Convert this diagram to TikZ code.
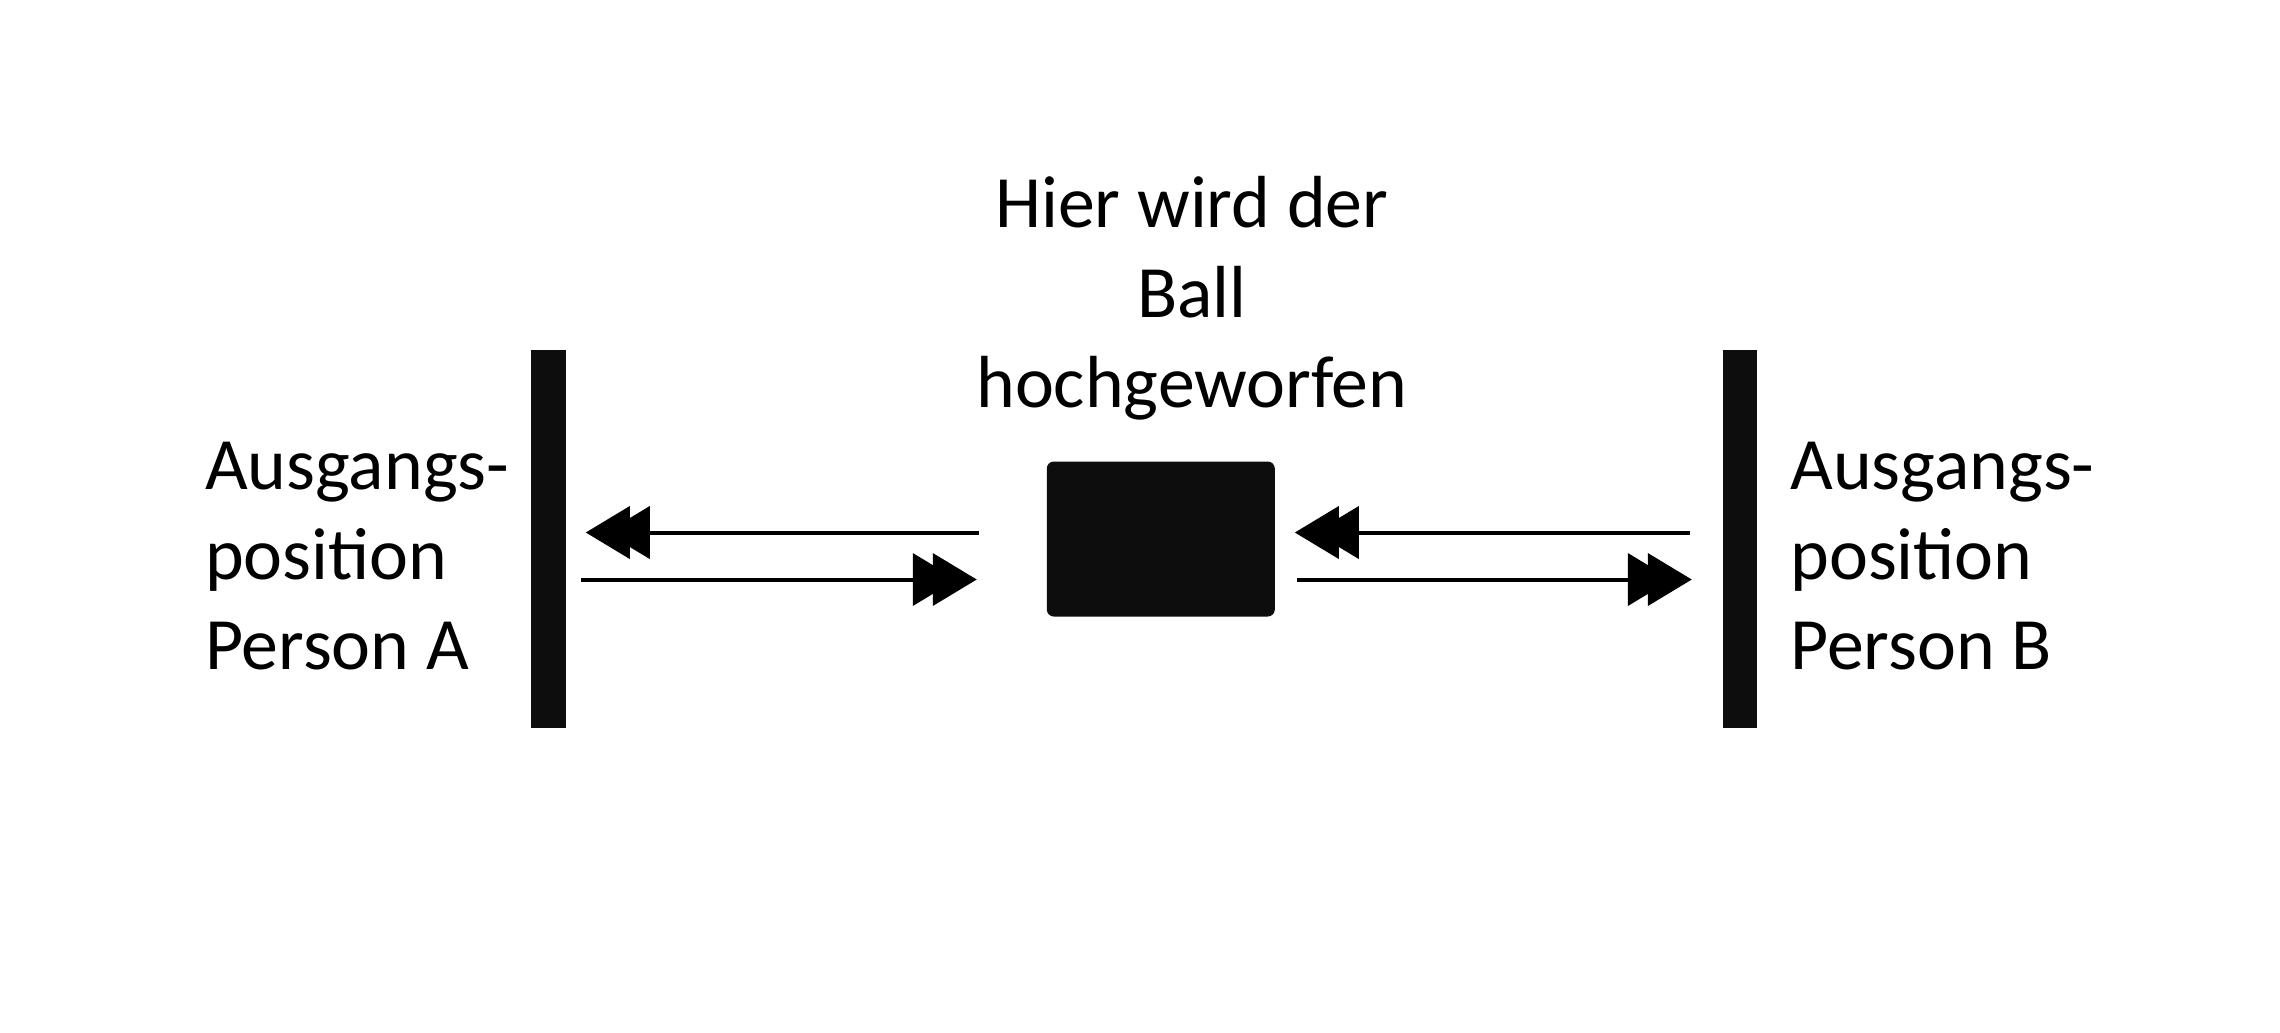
\documentclass[tikz,border=0pt]{standalone}
\usepackage{fontspec}
\setmainfont{Carlito}
\usetikzlibrary{arrows.meta}
\usetikzlibrary{positioning}

\begin{document}
\begin{tikzpicture}[%
        every node/.style={inner sep=0pt, align=left, font=\fontsize{21}{25.6}\selectfont},
        wall/.style={rectangle, fill=black!95, minimum width=0.345cm, minimum height=3.78cm},
        ball/.style={rectangle, fill=black!95, rounded corners=0.07cm, minimum width=2.28cm, minimum height=1.55cm},
        line width=1.15pt,
        >={Triangle[length=0.44cm,width=0.52cm,sep=-0.24cm]Triangle[length=0.44cm,width=0.52cm]}
      ]
      \useasboundingbox (0,0) rectangle (22.8,-10.32);
      \node [wall] (barA) at (5.485,-5.39) {};
      \node [ball] (ball) [right=4.77cm of barA] {};
      \node [wall] (barB) [right=4.44cm of ball] {};
      \node [] (posA) [left=0.18cm of barA, yshift=-0.17cm] {Ausgangs-\\position\\Person A};
      \node [] (posB) [right=0.29cm of barB, yshift=-0.17cm] {Ausgangs-\\position\\Person B};
      \node [align=center] (wurf) [above=0.37cm of ball, xshift=0.31cm] {Hier wird der\\Ball\\hochgeworfen};
      \path [draw] ([yshift=0.065cm]ball.west) edge[->, shorten <=0.66cm, shorten >=0.18cm] ([yshift=0.065cm]barA.east)
      ([yshift=-0.405cm]barA.east) edge[->, shorten <=0.13cm, shorten >=0.68cm] ([yshift=-0.405cm]ball.west)
      ([yshift=0.065cm]barB.west) edge[->, shorten <=0.31cm, shorten >=0.18cm] ([yshift=0.065cm]ball.east)
      ([yshift=-0.405cm]ball.east) edge[->, shorten <=0.2cm, shorten >=0.29cm] ([yshift=-0.405cm]barB.west);
    \end{tikzpicture}
\end{document}
